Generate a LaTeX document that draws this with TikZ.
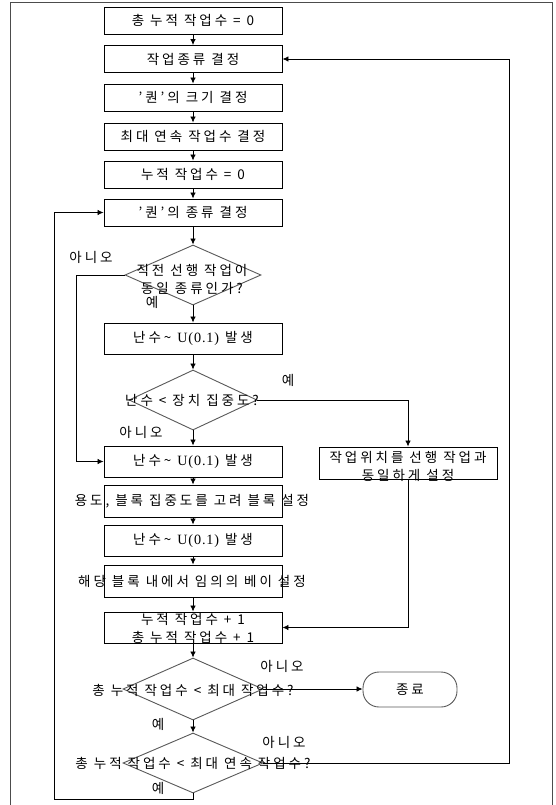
\documentclass[tikz,border=0pt]{standalone}
\usepackage{fontspec}
\setmainfont{Noto Sans CJK KR}[LetterSpace=22]
\newfontfamily\serif{Liberation Serif}[LetterSpace=6, Scale=1.05]
\usetikzlibrary{arrows.meta,shapes.geometric}
\newcommand\rnd{난수\textasciitilde{} {\serif U(0.1)} 발생}
\newcommand\qq{{\char"0027}}
\begin{document}
\begin{tikzpicture}[x=1pt,y=-1pt,
  font=\fontsize{13.5}{18}\selectfont,
  box/.style={draw=black, line width=0.9pt, minimum width=178pt, inner sep=0pt},
  tb/.style={box, minimum height=27pt},
  lb/.style={box, minimum height=31pt},
  dec/.style={draw=black!65, line width=0.9pt, shape=diamond, inner sep=0pt},
  term/.style={draw=black!65, line width=0.9pt, rounded corners=16pt,
    minimum width=94pt, minimum height=35pt, inner sep=0pt},
  arr/.style={draw=black, line width=0.8pt, -{Latex[length=6pt,width=5.5pt]}},
  lbl/.style={inner sep=0pt, align=center}]
\useasboundingbox (0,0) rectangle (556,805);
\fill[white] (0,0) rectangle (556,805);
% outer frame
\draw[black!70, line width=1pt] (10,815) -- (10,2.5) -- (552,2.5) -- (552,815);

% main column
\node[tb] (b1) at (193,20.5) {총 누적 작업수 = 0};
\node[tb] (b2) at (193,59) {작업종류 결정};
\node[tb] (b3) at (193,97.5) {\qq 퀀\qq 의 크기 결정};
\node[tb] (b4) at (193,136.5) {최대 연속 작업수 결정};
\node[tb] (b5) at (193,174.5) {누적 작업수 = 0};
\node[tb] (b6) at (193,212.5) {\qq 퀀\qq 의 종류 결정};
\node[dec, minimum width=136pt, minimum height=60pt] (d1) at (193,275) {};
\node[lbl] (t1) at (192,279) {직전 선행 작업이\\동일 종류인가?};
\node[lb] (b7) at (193,338.5) {\rnd};
\node[dec, minimum width=128pt, minimum height=60pt] (d2) at (193,400) {};
\node[lbl] (t2) at (192,400) {난수 < 장치 집중도?};
\node[lb] (b8) at (193,461.5) {\rnd};
\node[box, minimum height=32pt] (rb) at (408,463) {};
\node[lbl] (trb) at (408,466) {작업위치를 선행 작업과\\동일하게 설정};
\node[box, minimum height=32pt] (b9) at (193,501) {};
\node[lbl] (t9) at (192,501) {용도, 블록 집중도를 고려 블록 설정};
\node[lb] (b10) at (193,540.5) {\rnd};
\node[box, minimum height=32pt] (b11) at (193,581) {};
\node[lbl] (t11) at (192,581) {해당 블록 내에서 임의의 베이 설정};
\node[lb] (b12) at (193,627.5) {};
\node[lbl] (t12) at (193,628) {누적 작업수 + 1\\총 누적 작업수 + 1};
\node[dec, minimum width=140pt, minimum height=62pt] (d3) at (193,689) {};
\node[lbl] (t3) at (193,690) {총 누적 작업수 < 최대 작업수?};
\node[term] (end) at (410,689.5) {종료};
\node[dec, minimum width=140pt, minimum height=60pt] (d4) at (193,763) {};
\node[lbl] (t4) at (193,763) {총 누적 작업수 < 최대 연속 작업수?};

% branch labels
\node[lbl] (n1) at (91,257) {아니오};
\node[lbl] (y1) at (152,302) {예};
\node[lbl] (y2) at (288,380) {예};
\node[lbl] (n2) at (141,432) {아니오};
\node[lbl] (n3) at (282,666) {아니오};
\node[lbl] (y3) at (158,724) {예};
\node[lbl] (n4) at (284,742) {아니오};
\node[lbl] (y4) at (158,788) {예};

% helper points for the side routes
\coordinate (cL) at (54.5,799);
\coordinate (cN) at (76,0);
\coordinate (cR) at (509,0);

% straight flow
\draw[arr] (b1) -- (b2);
\draw[arr] (b2) -- (b3);
\draw[arr] (b3) -- (b4);
\draw[arr] (b4) -- (b5);
\draw[arr] (b5) -- (b6);
\draw[arr] (b6) -- (d1);
\draw[arr] (d1) -- (b7);
\draw[arr] (b7) -- (d2);
\draw[arr] (d2) -- (b8);
\draw[arr] (b8) -- (b9);
\draw[arr] (b9) -- (b10);
\draw[arr] (b10) -- (b11);
\draw[arr] (b11) -- (b12);
\draw[arr] (b12) -- (d3);
\draw[arr] (d3) -- (d4);

% side routes
\draw[arr] (d1.west) -- (d1.west -| cN) |- (b8.west);
\draw[arr] (d2.east) -| (rb.north);
\draw[arr] (rb.south) |- (b12.east);
\draw[arr] (d3.east) -- (d3.east -| end.west);
\draw[arr] (d4.east) -- (d4.east -| cR) |- (b2.east);
\draw[arr] (d4.south) |- (cL) |- (b6.west);
\end{tikzpicture}
\end{document}
